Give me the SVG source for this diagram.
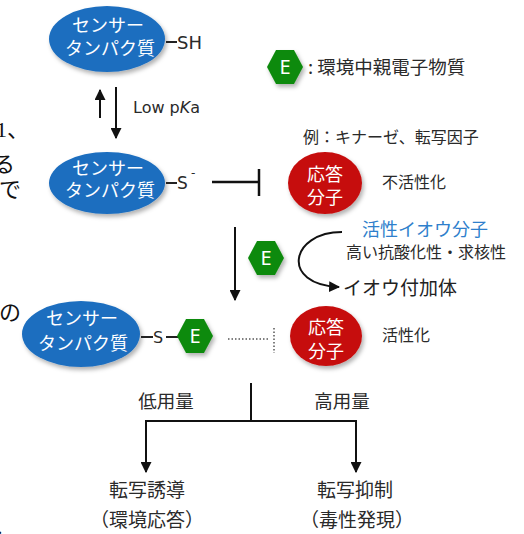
<svg xmlns="http://www.w3.org/2000/svg" width="524" height="534" viewBox="0 0 524 534">
<style>
text{font-family:"Noto Sans CJK JP","Noto Sans",sans-serif;}
.w{fill:#ffffff;font-size:18px;text-anchor:middle;}
.lbl{fill:#2a2a2a;}
.lat{fill:#2a2a2a;font-family:"DejaVu Sans",sans-serif;}
.blue{fill:#1c6ebf;}
.red{fill:#c60c0c;}
.grn{fill:#0c8a0c;}
.E{fill:#ffffff;font-family:"Noto Sans","DejaVu Sans",sans-serif;font-size:20px;text-anchor:middle;}
.ln{stroke:#111111;stroke-width:2;fill:none;}
.frag{fill:#111111;font-family:"Liberation Serif","Noto Sans CJK JP",serif;font-size:22px;}
</style>
<defs>
<filter id="sh" x="-20%" y="-20%" width="150%" height="150%">
<feDropShadow dx="2" dy="3" stdDeviation="2" flood-color="#000000" flood-opacity="0.3"/>
</filter>
<marker id="ah" viewBox="0 0 10 10" refX="9" refY="5" markerWidth="5.5" markerHeight="5.5" orient="auto" markerUnits="strokeWidth">
<path d="M0,0 L10,5 L0,10 z" fill="#111111"/>
</marker>
<polygon id="hex" points="-18,0 -9,-17 9,-17 18,0 9,17 -9,17"/>
</defs>

<g id="fragments">
<text class="frag" x="-4" y="137">1、</text>
<text class="frag" x="-7" y="172">る</text>
<text class="frag" x="-1" y="197">で</text>
<text class="frag" x="-1" y="320">の</text>
<text class="frag" x="-3" y="534">.</text>
</g>

<g id="sensor1">
<ellipse class="blue" cx="107" cy="39" rx="58" ry="33" filter="url(#sh)"/>
<text class="w" x="108" y="32">センサー</text>
<text class="w" x="110" y="55">タンパク質</text>
<line x1="166" y1="42" x2="177" y2="42" stroke="#222" stroke-width="2"/>
<text class="lat" x="177" y="49" style="font-size:18px">SH</text>
</g>

<g id="legend">
<use href="#hex" x="285" y="67" class="grn" filter="url(#sh)"/>
<text class="E" x="285" y="74">E</text>
<text class="lbl" x="308" y="74" style="font-size:18.5px">: 環境中親電子物質</text>
</g>

<g id="sensor2">
<ellipse class="blue" cx="107" cy="183" rx="58" ry="31" filter="url(#sh)"/>
<text class="w" x="108" y="175">センサー</text>
<text class="w" x="110" y="197">タンパク質</text>
<line x1="166" y1="183" x2="177" y2="183" stroke="#222" stroke-width="2"/>
<text class="lat" x="177" y="189" style="font-size:17px">S</text>
<text class="lat" x="191" y="177" style="font-size:12px">-</text>
</g>

<g id="response1">
<ellipse class="red" cx="325" cy="183" rx="37" ry="31" filter="url(#sh)"/>
<text class="w" x="325" y="181">応答</text>
<text class="w" x="325" y="204">分子</text>
<text class="lbl" x="303" y="143" style="font-size:16px">例：キナーゼ、転写因子</text>
<text class="lbl" x="382" y="188" style="font-size:16px">不活性化</text>
</g>

<g id="electrophile">
<use href="#hex" x="266" y="258" class="grn" filter="url(#sh)"/>
<text class="E" x="266" y="265">E</text>
</g>

<g id="sulfur">
<text x="362" y="236" style="font-size:18px;fill:#2f7fcc">活性イオウ分子</text>
<text class="lbl" x="346" y="258" style="font-size:16px">高い抗酸化性・求核性</text>
<text x="343" y="295" style="font-size:19px;fill:#222">イオウ付加体</text>
</g>

<g id="sensor3">
<ellipse class="blue" cx="81" cy="334" rx="59" ry="33" filter="url(#sh)"/>
<text class="w" x="82" y="325">センサー</text>
<text class="w" x="83" y="350">タンパク質</text>
<line x1="141" y1="337" x2="153" y2="337" stroke="#222" stroke-width="2"/>
<text class="lat" x="153" y="343" style="font-size:16px">S</text>
<line x1="166" y1="337" x2="178" y2="337" stroke="#222" stroke-width="2"/>
<use href="#hex" x="195" y="336" class="grn" filter="url(#sh)"/>
<text class="E" x="195" y="343">E</text>
</g>

<g id="response2">
<ellipse class="red" cx="326" cy="336" rx="36" ry="30" filter="url(#sh)"/>
<text class="w" x="326" y="334">応答</text>
<text class="w" x="326" y="358">分子</text>
<text class="lbl" x="382" y="341" style="font-size:16px">活性化</text>
</g>

<g id="outcome-low">
<text class="lbl" x="166" y="408" text-anchor="middle" style="font-size:18.5px">低用量</text>
<text class="lbl" x="147" y="497" text-anchor="middle" style="font-size:19px">転写誘導</text>
<text class="lbl" x="147" y="527" text-anchor="middle" style="font-size:19px">（環境応答）</text>
</g>

<g id="outcome-high">
<text class="lbl" x="342" y="408" text-anchor="middle" style="font-size:18.5px">高用量</text>
<text class="lbl" x="355" y="497" text-anchor="middle" style="font-size:19px">転写抑制</text>
<text class="lbl" x="357" y="527" text-anchor="middle" style="font-size:19px">（毒性発現）</text>
</g>

<g id="connectors">
<line class="ln" x1="100" y1="118" x2="100" y2="90" marker-end="url(#ah)"/>
<line class="ln" x1="116" y1="87" x2="116" y2="138" marker-end="url(#ah)"/>
<text class="lat" x="133" y="113" style="font-size:16px">Low p<tspan font-style="italic">K</tspan>a</text>
<line x1="212" y1="182" x2="259" y2="182" stroke="#111" stroke-width="2.5"/>
<line x1="259" y1="169" x2="259" y2="196" stroke="#111" stroke-width="2.5"/>
<line class="ln" x1="235" y1="227" x2="235" y2="300" marker-end="url(#ah)"/>
<path class="ln" d="M342,232 C290,232 280,285 339,287" marker-end="url(#ah)"/>
<line x1="228" y1="339" x2="270" y2="339" stroke="#555" stroke-width="1.5" stroke-dasharray="1.5 2"/>
<line x1="274" y1="328" x2="274" y2="353" stroke="#555" stroke-width="1.5" stroke-dasharray="1.5 2"/>
<line class="ln" x1="251" y1="383" x2="251" y2="421"/>
<polyline class="ln" points="146,472 146,421 356,421 356,472"/>
<line class="ln" x1="146" y1="460" x2="146" y2="472" marker-end="url(#ah)"/>
<line class="ln" x1="356" y1="460" x2="356" y2="472" marker-end="url(#ah)"/>
</g>
</svg>
